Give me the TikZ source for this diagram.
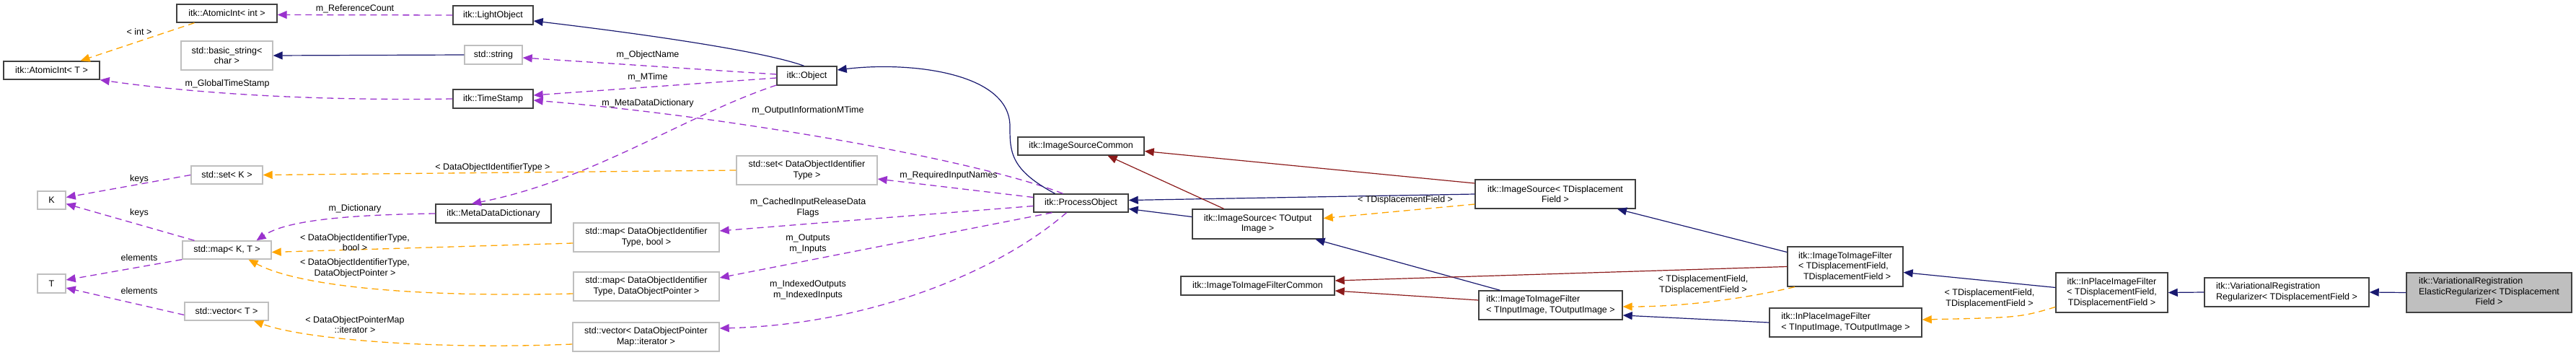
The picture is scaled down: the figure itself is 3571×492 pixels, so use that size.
\documentclass[tikz,border=0pt]{standalone}
\usepackage{fontspec}
\setmainfont{Liberation Sans}
\usetikzlibrary{arrows.meta}
\definecolor{cinh}{RGB}{25,25,112}
\definecolor{cred}{RGB}{139,26,26}
\definecolor{cmem}{RGB}{154,50,205}
\definecolor{ctpl}{RGB}{255,165,0}
\definecolor{cgray}{RGB}{191,191,191}
\begin{document}
\begin{tikzpicture}[x=1pt,y=-1pt,
  font=\fontsize{12.5}{14.5}\selectfont,
  box/.style={draw=black!75,line width=1.4pt,rectangle,inner sep=0pt,align=center,fill=white},
  gbox/.style={box,draw=cgray},
  tip/.style={-{Triangle[length=13pt,width=11pt]}},
  inh/.style={tip,draw=cinh,line width=1.2pt},
  red/.style={tip,draw=cred,line width=1.2pt},
  mem/.style={tip,draw=cmem,line width=1.3pt,dash pattern=on 9pt off 6pt},
  tpl/.style={tip,draw=ctpl,line width=1.3pt,dash pattern=on 9pt off 6pt},
  lab/.style={inner sep=0pt,align=center}]
\useasboundingbox (0,0) rectangle (3571,492);
% nodes
\node[box,minimum width=139,minimum height=25] (aint) at (314.5,18.5) {itk::AtomicInt< int >};
\node[gbox,minimum width=127,minimum height=40] (bstr) at (314.5,77) {std::basic\_string<\\char >};
\node[box,minimum width=133,minimum height=25] (aT) at (71.5,97.5) {itk::AtomicInt< T >};
\node[gbox,minimum width=99,minimum height=25] (setK) at (314.5,242.5) {std::set< K >};
\node[gbox,minimum width=39,minimum height=25] (K) at (71.5,277.5) {K};
\node[gbox,minimum width=123,minimum height=25] (mapKT) at (314.5,346.5) {std::map< K, T >};
\node[gbox,minimum width=39,minimum height=26] (T) at (71.5,393) {T};
\node[gbox,minimum width=116,minimum height=25] (vecT) at (314,431.5) {std::vector< T >};
\node[box,minimum width=111,minimum height=26] (light) at (683.5,21) {itk::LightObject};
\node[gbox,minimum width=80,minimum height=26] (str) at (684,76) {std::string};
\node[box,minimum width=111,minimum height=26] (ts) at (683.5,137) {itk::TimeStamp};
\node[box,minimum width=83,minimum height=26] (obj) at (1118.5,105) {itk::Object};
\node[gbox,minimum width=195,minimum height=40] (setD) at (1118.5,236) {std::set< DataObjectIdentifier\\Type >};
\node[box,minimum width=160,minimum height=26] (mdd) at (684,296) {itk::MetaDataDictionary};
\node[gbox,minimum width=202,minimum height=40] (mapB) at (896,329) {std::map< DataObjectIdentifier\\Type, bool >};
\node[gbox,minimum width=202,minimum height=40] (mapP) at (896,397) {std::map< DataObjectIdentifier\\Type, DataObjectPointer >};
\node[gbox,minimum width=203,minimum height=40] (vecP) at (895.5,467) {std::vector< DataObjectPointer\\Map::iterator >};
\node[box,minimum width=175,minimum height=25] (isc) at (1498.5,202.5) {itk::ImageSourceCommon};
\node[box,minimum width=131,minimum height=25] (po) at (1498.5,281.5) {itk::ProcessObject};
\node[box,minimum width=181,minimum height=41] (isO) at (1743.5,310.5) {itk::ImageSource< TOutput\\Image >};
\node[box,minimum width=213,minimum height=26] (iic) at (1743.5,396) {itk::ImageToImageFilterCommon};
\node[box,minimum width=222,minimum height=40] (isD) at (2156,269) {itk::ImageSource< TDisplacement\\Field >};
\node[box,minimum width=199,minimum height=40,align=left] (iiO) at (2149.5,423) {itk::ImageToImageFilter\\< TInputImage, TOutputImage >};
\node[box,minimum width=160,minimum height=55,align=left] (iiD) at (2558,369.5) {itk::ImageToImageFilter\\< TDisplacementField,\\\ \ TDisplacementField >};
\node[box,minimum width=211,minimum height=40,align=left] (ipO) at (2558.5,447) {itk::InPlaceImageFilter\\< TInputImage, TOutputImage >};
\node[box,minimum width=155,minimum height=55] (ipD) at (2927.5,405.5) {itk::InPlaceImageFilter\\< TDisplacementField,\\TDisplacementField >};
\node[box,minimum width=228,minimum height=40,align=left] (reg) at (3170,405) {itk::VariationalRegistration\\Regularizer< TDisplacementField >};
\node[box,minimum width=229,minimum height=55,fill=cgray] (el) at (3450.5,405.5) {\begin{tabular}{@{}l@{}}itk::VariationalRegistration\\ElasticRegularizer< TDisplacement\\\multicolumn{1}{@{}c@{}}{Field >}\end{tabular}};
% edges
\draw[inh] ([xshift=-4]obj.north) .. controls (1050,68) and (850,42) .. ([yshift=-8]light.east);
\draw[inh] (str.west) -- (bstr.east);
\draw[mem] (light.west) -- ([yshift=-2]aint.east);
\draw[tpl] ([xshift=-45]aint.south) -- ([xshift=40]aT.north);
\draw[mem] (ts.west) .. controls (420,140) and (260,128) .. (aT.south east);
\draw[mem] ([yshift=2]obj.west) -- ([yshift=-4]str.east);
\draw[mem] ([yshift=-3]obj.west) -- ([yshift=5]ts.east);
\draw[mem] ([yshift=-13]obj.west) .. controls (950,160) and (820,250) .. ([xshift=-30]mdd.north);
\draw[mem] ([xshift=-25]po.north) .. controls (1350,220) and (1000,160) .. ([yshift=-2]ts.east);
\draw[mem] (mdd.west) .. controls (450,298) and (390,310) .. ([xshift=41]mapKT.north);
\draw[tpl] (setD.west) -- (setK.east);
\draw[tpl] ([yshift=-8]mapB.west) -- ([yshift=-3]mapKT.east);
\draw[tpl] ([yshift=-10]mapP.west) .. controls (600,412) and (420,400) .. ([xshift=30]mapKT.south);
\draw[tpl] ([yshift=-10]vecP.west) .. controls (600,485) and (420,470) .. ([xshift=38]vecT.south);
\draw[mem] (setK.west) -- ([yshift=4]K.east);
\draw[mem] ([xshift=-45]mapKT.north) -- ([yshift=-5]K.east);
\draw[mem] (mapKT.south west) -- ([yshift=5]T.east);
\draw[mem] ([yshift=-5]vecT.west) -- ([yshift=-6]T.east);
\draw[inh] ([xshift=-36]po.north) .. controls (1400,235) and (1400,210) .. (1400,175) .. controls (1400,100) and (1260,85) .. ([yshift=8]obj.east);
\draw[mem] ([yshift=8]po.west) -- ([yshift=-12]setD.east);
\draw[mem] ([yshift=-4]po.west) -- ([yshift=9]mapB.east);
\draw[mem] ([xshift=-40]po.south) -- ([yshift=12]mapP.east);
\draw[mem] ([xshift=-20]po.south) .. controls (1380,380) and (1200,450) .. ([yshift=12]vecP.east);
\draw[inh] ([yshift=10]isO.west) -- ([yshift=-8]po.east);
\draw[inh] (isD.west) -- ([yshift=4]po.east);
\draw[red] ([xshift=-47]isO.north) -- ([xshift=37]isc.south);
\draw[red] ([yshift=15]isD.west) -- ([yshift=-7]isc.east);
\draw[tpl] ([yshift=-14]isD.west) -- ([yshift=8]isO.east);
\draw[inh] ([xshift=-70]iiO.north) -- ([xshift=80]isO.south);
\draw[red] ([yshift=7]iiO.west) -- ([yshift=-7]iic.east);
\draw[red] (iiD.west) -- ([yshift=7]iic.east);
\draw[inh] ([yshift=20]iiD.west) -- ([xshift=86]isD.south);
\draw[tpl] ([xshift=-70]iiD.south) .. controls (2400,418) and (2320,425) .. ([yshift=-2]iiO.east);
\draw[inh] (ipO.west) -- ([yshift=-14]iiO.east);
\draw[inh] ([yshift=7]ipD.west) -- ([yshift=-8]iiD.east);
\draw[tpl] ([yshift=-20]ipD.west) .. controls (2800,440) .. ([yshift=4]ipO.east);
\draw[inh] (reg.west) -- (ipD.east);
\draw[inh] (el.west) -- (reg.east);
% labels
\node[lab] (l1) at (492,12) {m\_ReferenceCount};
\node[lab] (l2) at (193,44) {< int >};
\node[lab] (l3) at (315,116) {m\_GlobalTimeStamp};
\node[lab] (l4) at (193,248) {keys};
\node[lab] (l5) at (193,295) {keys};
\node[lab] (l6) at (492,289) {m\_Dictionary};
\node[lab] (l7) at (492,336) {< DataObjectIdentifierType,\\bool >};
\node[lab] (l8) at (492,372) {< DataObjectIdentifierType,\\DataObjectPointer >};
\node[lab] (l9) at (193,357) {elements};
\node[lab] (l10) at (193,403) {elements};
\node[lab] (l11) at (492,450) {< DataObjectPointerMap\\::iterator >};
\node[lab] (l12) at (898,76) {m\_ObjectName};
\node[lab] (l13) at (898,107) {m\_MTime};
\node[lab] (l14) at (898,143) {m\_MetaDataDictionary};
\node[lab] (l15) at (1120,153) {m\_OutputInformationMTime};
\node[lab] (l16) at (683,232) {< DataObjectIdentifierType >};
\node[lab] (l17) at (1315,243) {m\_RequiredInputNames};
\node[lab] (l18) at (1120,288) {m\_CachedInputReleaseData\\Flags};
\node[lab] (l19) at (1120,338) {m\_Outputs\\m\_Inputs};
\node[lab] (l20) at (1120,402) {m\_IndexedOutputs\\m\_IndexedInputs};
\node[lab] (l21) at (1948,277) {< TDisplacementField >};
\node[lab] (l22) at (2361,395) {< TDisplacementField,\\TDisplacementField >};
\node[lab] (l23) at (2758,414) {< TDisplacementField,\\TDisplacementField >};
\end{tikzpicture}
\end{document}
